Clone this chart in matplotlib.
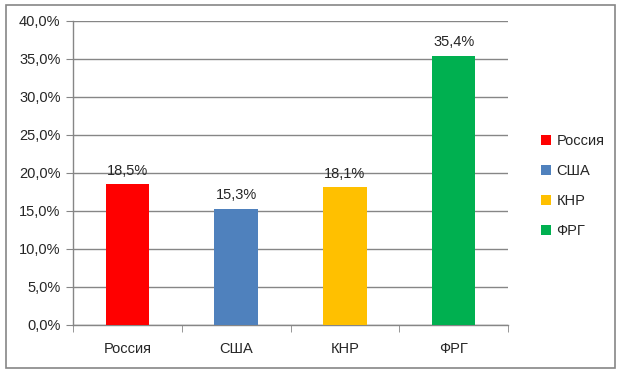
import matplotlib.pyplot as plt
from matplotlib.patches import Rectangle
from matplotlib.ticker import FuncFormatter, MultipleLocator, FixedLocator

# -----------------------------
# Data
# -----------------------------
countries = ["Россия", "США", "КНР", "ФРГ"]
shares = [18.5, 15.3, 18.1, 35.4]
colors = ["#ff0000", "#4f81bd", "#ffc000", "#00b050"]

GRAY = "#868686"
TEXT = "#262626"

plt.rcParams["font.family"] = ["Liberation Sans", "DejaVu Sans"]
plt.rcParams["font.size"] = 10.5

fig = plt.figure(figsize=(6.2, 3.73), dpi=100)
fig.patches.append(Rectangle((6 / 620, 5 / 373), 609 / 620, 363 / 373,
                             transform=fig.transFigure, fill=False,
                             edgecolor=GRAY, linewidth=1.2))

ax = fig.add_axes([73 / 620, 48 / 373, 435 / 620, 304 / 373])

x = range(len(countries))
bars = ax.bar(x, shares, width=0.4, color=colors, label=countries, zorder=3)

for xi, v in zip(x, shares):
    ax.text(xi, v + 0.9, f"{v:.1f}%".replace(".", ","), ha="center",
            va="bottom", color=TEXT, fontsize=10.5)

ax.set_xlim(-0.5, len(countries) - 0.5)
ax.set_ylim(0, 40)
ax.yaxis.set_major_locator(MultipleLocator(5))
ax.yaxis.set_major_formatter(FuncFormatter(lambda v, _: f"{v:.1f}%".replace(".", ",")))
ax.grid(axis="y", color=GRAY, linewidth=1.0, zorder=0)

ax.set_xticks(list(x))
ax.set_xticklabels(countries)
ax.xaxis.set_minor_locator(FixedLocator([i + 0.5 for i in range(-1, len(countries))]))
ax.tick_params(axis="x", which="major", length=0, pad=12, colors=TEXT)
ax.tick_params(axis="x", which="minor", length=5, color=GRAY)
ax.tick_params(axis="y", length=5, color=GRAY, labelcolor=TEXT, pad=4)

for side in ["top", "right"]:
    ax.spines[side].set_visible(False)
for side in ["left", "bottom"]:
    ax.spines[side].set_color(GRAY)
    ax.spines[side].set_linewidth(1.0)

ax.legend(handles=bars, labels=countries, loc="center left",
          bbox_to_anchor=(528 / 620, 187 / 373), bbox_transform=fig.transFigure,
          frameon=False, handlelength=0.7, handleheight=0.7, handletextpad=0.35,
          labelspacing=1.1, fontsize=10.5, labelcolor=TEXT)

fig.savefig("out.png", dpi=100)
